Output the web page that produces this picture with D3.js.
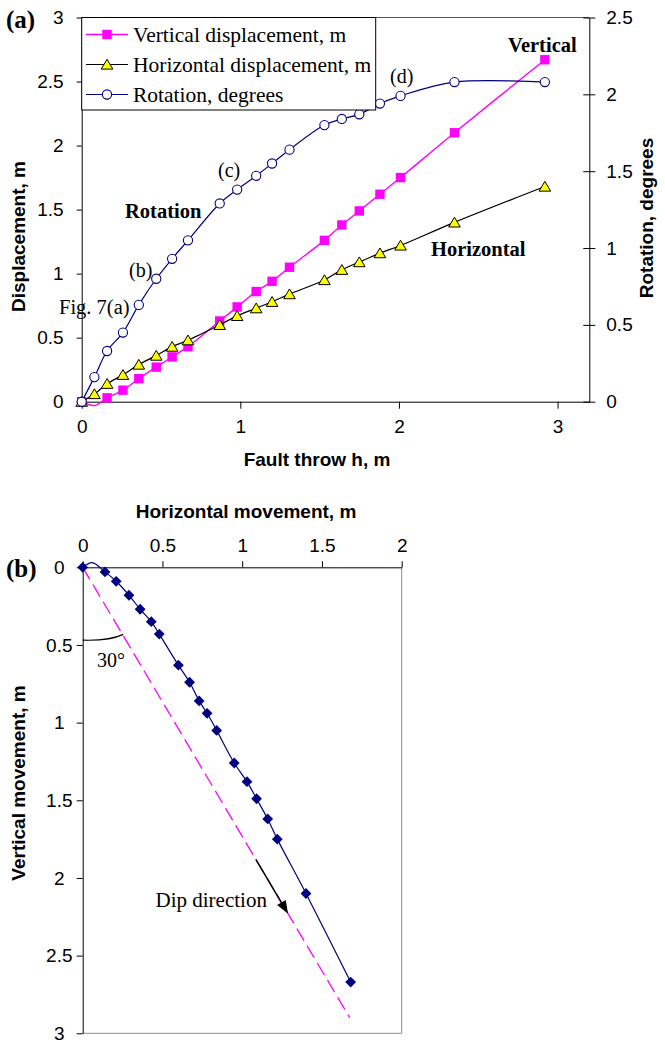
<!DOCTYPE html>
<html>
<head>
<meta charset="utf-8">
<script src="https://cdn.jsdelivr.net/npm/d3@7"></script>
<style>
  body { margin: 0; background: #fff; }
  svg { display: block; }
</style>
</head>
<body>
<svg id="chart" width="665" height="1040"></svg>
<script>
// Fault throw h (m) at each recorded step
const throwH = [0, 0.08, 0.16, 0.26, 0.36, 0.47, 0.57, 0.67, 0.87, 0.98, 1.10, 1.20, 1.31, 1.53, 1.64, 1.75, 1.88, 2.01, 2.35, 2.92];
// Vertical displacement (m)
const verticalDisp = [0, -0.03, 0.03, 0.09, 0.18, 0.27, 0.35, 0.43, 0.63, 0.74, 0.86, 0.94, 1.05, 1.26, 1.38, 1.49, 1.62, 1.75, 2.10, 2.67];
// Horizontal displacement (m)
const horizontalDisp = [0, 0.06, 0.14, 0.21, 0.29, 0.36, 0.43, 0.48, 0.60, 0.67, 0.73, 0.78, 0.84, 0.95, 1.03, 1.09, 1.16, 1.22, 1.40, 1.68];
// Rotation (degrees)
const rotationDeg = [0, 0.16, 0.33, 0.45, 0.63, 0.80, 0.93, 1.05, 1.29, 1.38, 1.47, 1.55, 1.64, 1.80, 1.84, 1.87, 1.94, 1.99, 2.08, 2.08];

// Tick values
const throwTicks = [0, 1, 2, 3];
const dispTicks = [0, 0.5, 1, 1.5, 2, 2.5, 3];
const rotTicks = [0, 0.5, 1, 1.5, 2, 2.5];
const moveTicksX = [0, 0.5, 1, 1.5, 2];
const moveTicksY = [0, 0.5, 1, 1.5, 2, 2.5, 3];

// Dip line geometry for panel (b)
const dipAngleDeg = 30;          // angle from vertical
const dipLineDepth = [0, 2.9];    // extent of dashed line (m)
const dipArrowDepth = [1.88, 2.23];

const serif = "'Liberation Serif','Times New Roman',serif";
const sans = "'Liberation Sans',Arial,Helvetica,sans-serif";
const PINK = "#ff00ff", NAVY = "#000080", YELLOW = "#ffff00";

const svg = d3.select("#chart");
svg.append("rect").attr("width", 665).attr("height", 1040).attr("fill", "#fff");

const fmt = d3.format("");
const recA = throwH.map((h, i) => ({ h, v: verticalDisp[i], hz: horizontalDisp[i], r: rotationDeg[i] }));

function styleAxis(g, size) {
  g.attr("font-family", sans).attr("font-size", size);
  g.selectAll(".domain").attr("stroke", "#000").attr("stroke-width", 1);
  g.selectAll(".tick line").attr("stroke", "#000").attr("stroke-width", 1);
  g.selectAll(".tick text").attr("fill", "#000");
}

/* ---------------- Panel (a) ---------------- */
const A = { left: 81.7, right: 589.3, top: 17.5, bottom: 401.7 };
const xA = d3.scaleLinear().domain([0, 3.2]).range([A.left, A.right]);
const yA = d3.scaleLinear().domain([0, 3]).range([A.bottom, A.top]);
const yR = d3.scaleLinear().domain([0, 2.5]).range([A.bottom, A.top]);

// plot-area top border
svg.append("line").attr("x1", A.left).attr("x2", A.right).attr("y1", A.top).attr("y2", A.top)
  .attr("stroke", "#555").attr("stroke-width", 1);

const gLeft = svg.append("g").attr("transform", `translate(${A.left},0)`)
  .call(d3.axisLeft(yA).tickValues(dispTicks).tickFormat(fmt).tickSize(5).tickSizeOuter(0).tickPadding(13));
styleAxis(gLeft, 19);

const gRight = svg.append("g").attr("transform", `translate(${A.right},0)`)
  .call(d3.axisRight(yR).tickValues(rotTicks).tickFormat(fmt).tickSize(6).tickSizeOuter(0).tickPadding(11));
styleAxis(gRight, 19);
gRight.selectAll(".tick line").attr("x1", -6);

const gBottom = svg.append("g").attr("transform", `translate(0,${A.bottom})`)
  .call(d3.axisBottom(xA).tickValues(throwTicks).tickFormat(fmt).tickSize(7).tickSizeOuter(0).tickPadding(11));
styleAxis(gBottom, 19);

// axis titles
svg.append("text").attr("transform", "translate(25,236.5) rotate(-90)")
  .attr("text-anchor", "middle").attr("font-family", sans).attr("font-weight", "bold")
  .attr("font-size", 19).text("Displacement, m");
svg.append("text").attr("transform", "translate(653,218) rotate(-90)")
  .attr("text-anchor", "middle").attr("font-family", sans).attr("font-weight", "bold")
  .attr("font-size", 19).text("Rotation, degrees");
svg.append("text").attr("x", 317).attr("y", 466)
  .attr("text-anchor", "middle").attr("font-family", sans).attr("font-weight", "bold")
  .attr("font-size", 19).text("Fault throw h, m");

// marker shapes
const squarePath = s => `M${-s},${-s}H${s}V${s}H${-s}Z`;
const trianglePath = "M0,-5.2L5.8,4.6L-5.8,4.6Z";
const diamondPath = s => `M0,${-s}L${s},0L0,${s}L${-s},0Z`;

const smooth = d3.curveCatmullRom.alpha(0.5);

// Vertical displacement
svg.append("path").datum(recA)
  .attr("d", d3.line().x(d => xA(d.h)).y(d => yA(d.v)).curve(smooth))
  .attr("fill", "none").attr("stroke", PINK).attr("stroke-width", 1.4);
svg.append("g").selectAll("path").data(recA.filter(d => d.v >= 0)).join("path")
  .attr("transform", d => `translate(${xA(d.h)},${yA(d.v)})`)
  .attr("d", squarePath(4.7)).attr("fill", PINK);

// Horizontal displacement
svg.append("path").datum(recA)
  .attr("d", d3.line().x(d => xA(d.h)).y(d => yA(d.hz)).curve(smooth))
  .attr("fill", "none").attr("stroke", "#000").attr("stroke-width", 1.2);
svg.append("g").selectAll("path").data(recA.filter(d => d.hz >= 0)).join("path")
  .attr("transform", d => `translate(${xA(d.h)},${yA(d.hz)})`)
  .attr("d", trianglePath).attr("fill", YELLOW).attr("stroke", "#000").attr("stroke-width", 1);

// Rotation (secondary axis)
svg.append("path").datum(recA)
  .attr("d", d3.line().x(d => xA(d.h)).y(d => yR(d.r)).curve(smooth))
  .attr("fill", "none").attr("stroke", NAVY).attr("stroke-width", 1.2);
svg.append("g").selectAll("circle").data(recA.filter(d => d.r >= 0)).join("circle")
  .attr("cx", d => xA(d.h)).attr("cy", d => yR(d.r)).attr("r", 4.6)
  .attr("fill", "#fff").attr("stroke", NAVY).attr("stroke-width", 1.1);

// legend
const legendItems = [
  { label: "Vertical displacement, m", color: PINK, kind: "square" },
  { label: "Horizontal displacement, m", color: "#000", kind: "triangle" },
  { label: "Rotation, degrees", color: NAVY, kind: "circle" }
];
const lg = svg.append("g");
lg.append("rect").attr("x", A.left).attr("y", A.top).attr("width", 294).attr("height", 92.5)
  .attr("fill", "#fff").attr("stroke", "#000").attr("stroke-width", 1);
legendItems.forEach((it, i) => {
  const y = 34.5 + i * 30;
  lg.append("line").attr("x1", 86).attr("x2", 128).attr("y1", y).attr("y2", y)
    .attr("stroke", it.color).attr("stroke-width", it.kind === "square" ? 1.4 : 1.2);
  if (it.kind === "square") {
    lg.append("path").attr("transform", `translate(107,${y})`).attr("d", squarePath(4.7)).attr("fill", PINK);
  } else if (it.kind === "triangle") {
    lg.append("path").attr("transform", `translate(107,${y})`).attr("d", trianglePath)
      .attr("fill", YELLOW).attr("stroke", "#000").attr("stroke-width", 1);
  } else {
    lg.append("circle").attr("cx", 107).attr("cy", y).attr("r", 4.6)
      .attr("fill", "#fff").attr("stroke", NAVY).attr("stroke-width", 1.1);
  }
  lg.append("text").attr("x", 133).attr("y", y + 7.3).attr("font-family", serif)
    .attr("font-size", 21.5).attr("fill", "#000").text(it.label);
});

// annotations, panel (a)
const notesA = [
  { t: "(a)", x: 6, y: 28, bold: true, size: 25 },
  { t: "Vertical", x: 508, y: 52, bold: true, size: 20.5 },
  { t: "Rotation", x: 125, y: 218, bold: true, size: 20.5 },
  { t: "Horizontal", x: 431, y: 256, bold: true, size: 20.5 },
  { t: "(b)", x: 129, y: 277, bold: false, size: 20 },
  { t: "Fig. 7(a)", x: 59, y: 314, bold: false, size: 20.5 },
  { t: "(c)", x: 218, y: 177, bold: false, size: 20 },
  { t: "(d)", x: 390, y: 83, bold: false, size: 20 }
];
notesA.forEach(n => {
  svg.append("text").attr("x", n.x).attr("y", n.y).attr("font-family", serif)
    .attr("font-weight", n.bold ? "bold" : "normal").attr("font-size", n.size)
    .attr("fill", "#000").text(n.t);
});

/* ---------------- Panel (b) ---------------- */
const B = { left: 82.7, right: 401.7, top: 567.3, bottom: 1033.3 };
const xB = d3.scaleLinear().domain([0, 2]).range([B.left, B.right]);
const yB = d3.scaleLinear().domain([0, 3]).range([B.top, B.bottom]);

// right and bottom frame
svg.append("path")
  .attr("d", `M${B.right},${B.top}V${B.bottom}H${B.left}`)
  .attr("fill", "none").attr("stroke", "#8c8c8c").attr("stroke-width", 1);

const gTop = svg.append("g").attr("transform", `translate(0,${B.top})`)
  .call(d3.axisTop(xB).tickValues(moveTicksX).tickFormat(fmt).tickSize(6).tickSizeOuter(0).tickPadding(9));
styleAxis(gTop, 19);

const gLeftB = svg.append("g").attr("transform", `translate(${B.left},0)`)
  .call(d3.axisLeft(yB).tickValues(moveTicksY).tickFormat(fmt).tickSize(6).tickSizeOuter(0));
styleAxis(gLeftB, 19);
gLeftB.selectAll(".tick text").attr("text-anchor", "middle").attr("x", -23.4);

svg.append("text").attr("x", 246).attr("y", 518)
  .attr("text-anchor", "middle").attr("font-family", sans).attr("font-weight", "bold")
  .attr("font-size", 19).text("Horizontal movement, m");
svg.append("text").attr("transform", "translate(25,783) rotate(-90)")
  .attr("text-anchor", "middle").attr("font-family", sans).attr("font-weight", "bold")
  .attr("font-size", 19).text("Vertical movement, m");

// dip line at 30 degrees from vertical
const tanDip = Math.tan(dipAngleDeg * Math.PI / 180);
const dipPt = d => [xB(d * tanDip), yB(d)];
svg.append("path").datum(dipLineDepth)
  .attr("d", d3.line().x(d => dipPt(d)[0]).y(d => dipPt(d)[1]))
  .attr("fill", "none").attr("stroke", PINK).attr("stroke-width", 1.3)
  .attr("stroke-dasharray", "14,6");

// angle marker
const arcStart = [0, 0.469], arcCtrl = [0.17, 0.474], arcEnd = [0.254, 0.432];
svg.append("path")
  .attr("d", `M${xB(arcStart[0])},${yB(arcStart[1])}Q${xB(arcCtrl[0])},${yB(arcCtrl[1])} ${xB(arcEnd[0])},${yB(arcEnd[1])}`)
  .attr("fill", "none").attr("stroke", "#000").attr("stroke-width", 1.2);
svg.append("text").attr("x", 97).attr("y", 667).attr("font-family", serif)
  .attr("font-size", 20).text("30°");

// path of movement: horizontal vs vertical displacement
svg.append("path").datum(recA)
  .attr("d", d3.line().x(d => xB(d.hz)).y(d => yB(d.v)).curve(smooth))
  .attr("fill", "none").attr("stroke", NAVY).attr("stroke-width", 1.2);
svg.append("g").selectAll("path").data(recA.filter(d => d.v >= 0 && d.hz >= 0)).join("path")
  .attr("transform", d => `translate(${xB(d.hz)},${yB(d.v)})`)
  .attr("d", diamondPath(5.4)).attr("fill", NAVY);

// dip direction arrow
const p0 = dipPt(dipArrowDepth[0]), p1 = dipPt(dipArrowDepth[1]);
const len = Math.hypot(p1[0] - p0[0], p1[1] - p0[1]);
const ux = (p1[0] - p0[0]) / len, uy = (p1[1] - p0[1]) / len;
const bx = p1[0] - 13 * ux, by = p1[1] - 13 * uy;
svg.append("line").attr("x1", p0[0]).attr("y1", p0[1]).attr("x2", bx).attr("y2", by)
  .attr("stroke", "#000").attr("stroke-width", 1.5);
svg.append("path")
  .attr("d", `M${p1[0]},${p1[1]}L${bx - 5 * uy},${by + 5 * ux}L${bx + 5 * uy},${by - 5 * ux}Z`)
  .attr("fill", "#000");
svg.append("text").attr("x", 155.5).attr("y", 906.5).attr("font-family", serif)
  .attr("font-size", 21).text("Dip direction");

svg.append("text").attr("x", 6).attr("y", 577).attr("font-family", serif)
  .attr("font-weight", "bold").attr("font-size", 25).text("(b)");
</script>
</body>
</html>
